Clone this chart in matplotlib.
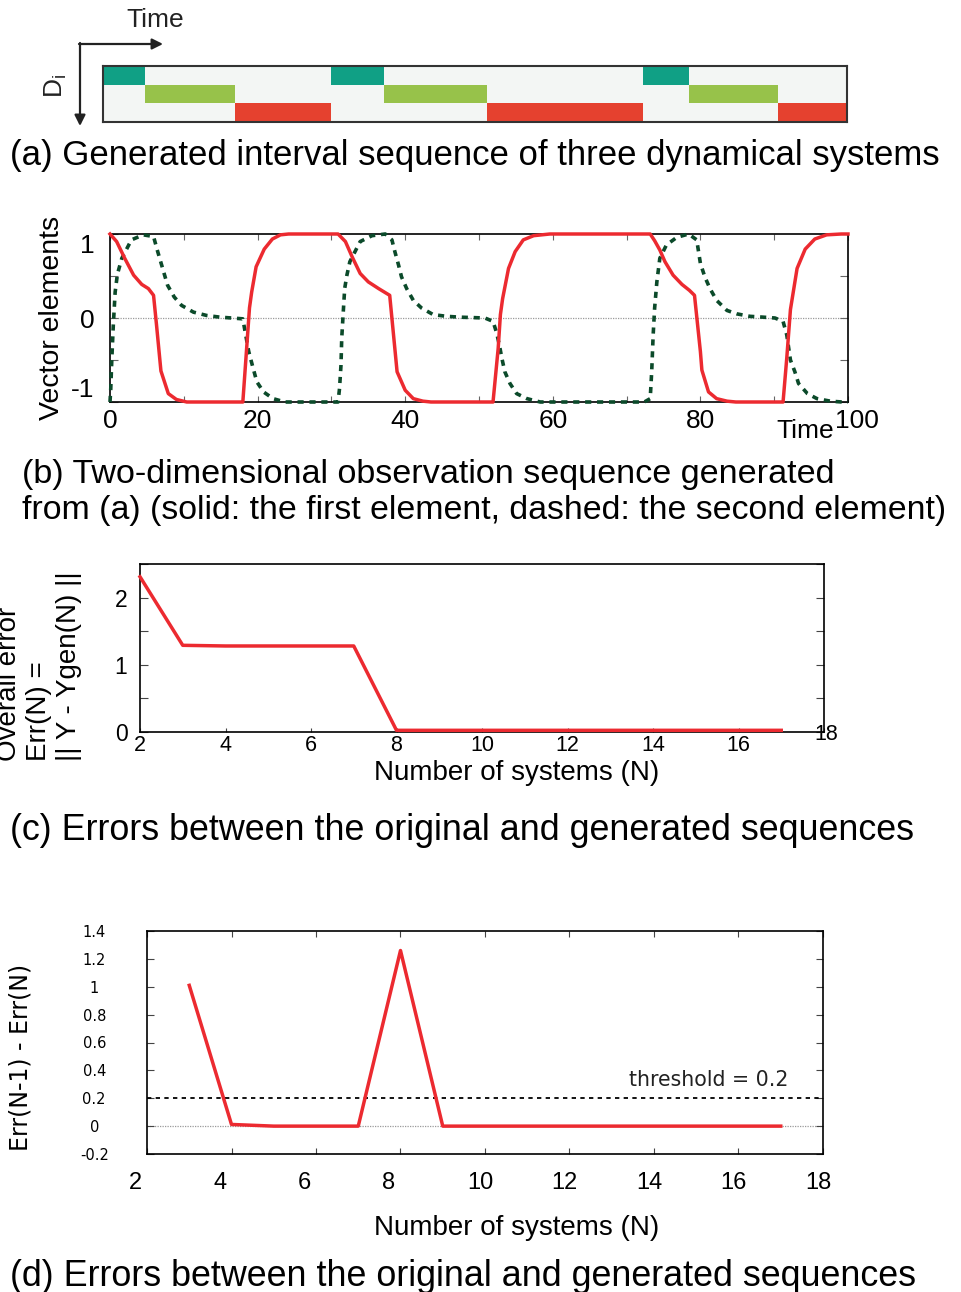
import matplotlib
matplotlib.use('Agg')
import matplotlib.pyplot as plt
from matplotlib.transforms import offset_copy

plt.rcParams['font.family'] = ['Liberation Sans', 'DejaVu Sans']
plt.rcParams['mathtext.fontset'] = 'custom'
plt.rcParams['mathtext.rm'] = 'Liberation Sans'
plt.rcParams['mathtext.it'] = 'Liberation Sans:italic'

# ---------------- data ----------------
# (a) interval sequence
seg_start = [0, 5.7, 17.7, 30.6, 37.8, 51.6, 72.6, 78.8, 90.7]
seg_end = [5.7, 17.7, 30.6, 37.8, 51.6, 72.6, 78.8, 90.7, 100]
seg_system = [1, 2, 3, 1, 2, 3, 1, 2, 3]
system_colors = ['#10a085', '#97c24a', '#e5412f']

# (b) observation sequence (time, value)
red_t = [0, 0.9, 2.0, 3.2, 4.3, 5.2, 5.9, 6.3, 6.9, 7.9, 9.0, 10.4, 18.0, 18.5, 18.9, 19.2,
         19.8, 20.9, 22.0, 23.1, 24.2, 30.9, 31.9, 32.8, 33.9, 35.0, 36.4, 37.9, 38.9, 40.0,
         41.1, 42.4, 43.5, 51.9, 52.6, 52.9, 53.2, 54.0, 54.9, 56.0, 57.4, 59.6, 73.2, 73.8,
         74.5, 75.2, 76.3, 77.5, 78.5, 79.2, 80.0, 80.2, 81.1, 82.2, 83.6, 84.8, 91.2, 91.7,
         92.2, 93.1, 94.2, 95.5, 97.1, 99.1, 100]
red_v = [1.0, 0.91, 0.71, 0.51, 0.40, 0.35, 0.27, -0.08, -0.63, -0.90, -0.97, -1.0, -1.0, -0.38,
         0.12, 0.31, 0.61, 0.82, 0.94, 0.99, 1.0, 1.0, 0.91, 0.73, 0.53, 0.43, 0.35, 0.27, -0.64,
         -0.86, -0.96, -0.99, -1.0, -1.0, -0.36, 0.04, 0.23, 0.59, 0.79, 0.93, 0.98, 1.0, 1.0,
         0.92, 0.81, 0.67, 0.51, 0.40, 0.33, 0.27, -0.40, -0.62, -0.88, -0.96, -0.99, -1.0, -1.0,
         -0.48, 0.10, 0.59, 0.82, 0.94, 0.99, 1.0, 1.0]
green_t = [0, 0.1, 0.25, 0.45, 0.7, 1.0, 1.6, 2.9, 4.5, 5.9, 6.4, 7.0, 7.8, 8.7, 9.7, 11.3, 13.1,
           14.9, 16.5, 18.0, 18.3, 18.8, 19.4, 19.9, 20.8, 22.1, 23.7, 30.9, 31.1, 31.3, 31.4,
           31.6, 31.8, 32.1, 32.5, 33.9, 35.5, 37.3, 38.2, 38.6, 39.1, 39.5, 40.2, 41.1, 42.2,
           43.8, 45.6, 47.4, 50.8, 51.9, 52.4, 52.8, 53.1, 53.5, 54.2, 55.1, 56.5, 58.3, 72.4,
           73.2, 73.4, 73.6, 73.8, 74.1, 74.5, 75.4, 76.8, 78.4, 79.5, 80.0, 80.6, 81.3, 82.2,
           83.6, 84.9, 86.7, 88.5, 90.1, 91.2, 91.7, 92.2, 92.8, 93.3, 94.5, 95.8, 97.6, 99.2, 100]
green_v = [-1.0, -0.85, -0.48, -0.08, 0.31, 0.52, 0.71, 0.93, 0.99, 0.97, 0.81, 0.63, 0.39, 0.25,
           0.15, 0.07, 0.03, 0.01, 0.0, -0.01, -0.16, -0.40, -0.60, -0.76, -0.88, -0.96, -1.0,
           -1.0, -0.84, -0.56, -0.24, 0.06, 0.35, 0.51, 0.67, 0.91, 0.98, 1.0, 0.93, 0.79, 0.63,
           0.49, 0.35, 0.21, 0.12, 0.04, 0.02, 0.01, 0.0, -0.04, -0.18, -0.34, -0.48, -0.64,
           -0.78, -0.90, -0.96, -1.0, -1.0, -0.96, -0.64, -0.20, 0.12, 0.43, 0.71, 0.87, 0.96,
           1.0, 0.93, 0.65, 0.49, 0.35, 0.21, 0.09, 0.05, 0.02, 0.01, 0.0, -0.04, -0.20, -0.50,
           -0.64, -0.78, -0.90, -0.96, -0.99, -1.0, -1.0]

# (c) overall error vs number of systems
n_c = [2, 3, 4, 5, 6, 7, 8, 9, 10, 11, 12, 13, 14, 15, 16, 17]
err_c = [2.31, 1.29, 1.28, 1.28, 1.28, 1.28, 0.025, 0.025, 0.025, 0.025, 0.025, 0.025, 0.025,
         0.025, 0.025, 0.025]

# (d) error differences
n_d = [3, 4, 5, 6, 7, 8, 9, 10, 11, 12, 13, 14, 15, 16, 17]
diff_d = [1.01, 0.012, 0.0, 0.0, 0.0, 1.26, 0.0, 0.0, 0.0, 0.0, 0.0, 0.0, 0.0, 0.0, 0.0]
threshold = 0.2

b_xticks = [0, 10, 20, 30, 40, 50, 60, 70, 80, 90, 100]
b_xlabels = ['0', '', '20', '', '40', '', '60', '', '80', '', '100']
b_yticks = [-1, -0.5, 0, 0.5, 1]
b_ylabels = ['-1', '', '0', '', '1']
c_xticks = [2, 4, 6, 8, 10, 12, 14, 16, 18]
c_yticks = [0, 0.5, 1, 1.5, 2, 2.5]
c_ylabels = ['0', '', '1', '', '2', '']
d_xticks = [2, 4, 6, 8, 10, 12, 14, 16, 18]
d_yticks = [-0.2, 0, 0.2, 0.4, 0.6, 0.8, 1.0, 1.2, 1.4]
d_ylabels = ['-0.2', '0', '0.2', '0.4', '0.6', '0.8', '1', '1.2', '1.4']

RED = '#ec2a30'
DGREEN = '#0b4a2a'

# ---------------- figure ----------------
W, H = 961, 1292
fig = plt.figure(figsize=(W / 100, H / 100), dpi=100)


def box(x0, y0, x1, y1):
    return [x0 / W, 1 - y1 / H, (x1 - x0) / W, (y1 - y0) / H]


ov = fig.add_axes([0, 0, 1, 1])
ov.set_xlim(0, W)
ov.set_ylim(H, 0)
ov.axis('off')
ov.set_zorder(10)

# ---- (a) ----
ax_a = fig.add_axes(box(103, 66, 847, 122))
ax_a.set_facecolor('#f3f6f4')
for s, e, k in zip(seg_start, seg_end, seg_system):
    ax_a.broken_barh([(s, e - s)], (k - 1, 1), facecolors=system_colors[k - 1], edgecolor='none')
ax_a.set_xlim(0, 100)
ax_a.set_ylim(3, 0)
ax_a.set_xticks([])
ax_a.set_yticks([])
for sp in ax_a.spines.values():
    sp.set_color('#333333')
    sp.set_linewidth(1.5)

ov.text(155, 20, 'Time', fontsize=19, ha='center', va='center', color='#222222')
ov.text(56, 86, r'D$_\mathregular{i}$', fontsize=19, rotation=90, ha='center', va='center',
        color='#222222')
ov.annotate('', xy=(163, 44), xytext=(79, 44),
            arrowprops=dict(arrowstyle='-|>', lw=1.6, color='#222222', mutation_scale=16,
                            shrinkA=0, shrinkB=0))
ov.annotate('', xy=(80, 126), xytext=(80, 43),
            arrowprops=dict(arrowstyle='-|>', lw=1.6, color='#222222', mutation_scale=16,
                            shrinkA=0, shrinkB=0))
ov.text(10, 155, '(a) Generated interval sequence of three dynamical systems',
        fontsize=25, ha='left', va='center')

# ---- (b) ----
ax_b = fig.add_axes(box(110, 234, 848, 402))
ax_b.axhline(0, color='#9a9a9a', lw=0.9, ls=(0, (1, 1)), zorder=1)
ax_b.plot(green_t, green_v, color=DGREEN, lw=2.6, ls=(0, (1.7, 1.6)), zorder=3, clip_on=False)
ax_b.plot(red_t, red_v, color=RED, lw=2.5, zorder=4, clip_on=False)
ax_b.set_xlim(0, 100)
ax_b.set_ylim(-1, 1)
ax_b.set_xticks(b_xticks)
ax_b.set_xticklabels(b_xlabels)
ax_b.set_yticks(b_yticks)
ax_b.set_yticklabels(b_ylabels)
ax_b.tick_params(direction='in', top=True, right=True, labelsize=19, color='#666666')
ax_b.tick_params(axis='x', length=4, pad=5)
ax_b.tick_params(axis='y', length=6, pad=11)
for sp in ax_b.spines.values():
    sp.set_linewidth(1.2)
ylab = ax_b.get_yticklabels()
ylab[4].set_va('top')
ylab[0].set_va('bottom')
xlab = ax_b.get_xticklabels()
xlab[10].set_transform(offset_copy(xlab[10].get_transform(), fig=fig, x=9, y=0, units='dots'))
ax_b.set_ylabel('Vector elements', fontsize=20.5)
ax_b.yaxis.label.set_rotation_mode('default')
ax_b.yaxis.label.set_va('center')
ax_b.yaxis.set_label_coords((52 - 110) / 738, 0.5)
ov.text(805, 431, 'Time', fontsize=19, ha='center', va='center')
ov.text(22, 474, '(b) Two-dimensional observation sequence generated',
        fontsize=24.6, ha='left', va='center')
ov.text(22, 510, 'from (a) (solid: the first element, dashed: the second element)',
        fontsize=24.4, ha='left', va='center')

# ---- (c) ----
ax_c = fig.add_axes(box(140, 564, 824, 732))
ax_c.plot(n_c, err_c, color=RED, lw=2.5, zorder=4, clip_on=False)
ax_c.set_xlim(2, 18)
ax_c.set_ylim(0, 2.5)
ax_c.set_xticks(c_xticks)
ax_c.set_xticklabels([str(v) for v in c_xticks])
ax_c.set_yticks(c_yticks)
ax_c.set_yticklabels(c_ylabels)
ax_c.tick_params(direction='in', right=True, color='#444444')
ax_c.tick_params(axis='x', length=3, pad=2, labelsize=15.5)
ax_c.tick_params(axis='y', length=6, pad=9, labelsize=16.5)
for sp in ax_c.spines.values():
    sp.set_linewidth(1.2)
cxl = ax_c.get_xticklabels()
cxl[-1].set_transform(offset_copy(cxl[-1].get_transform(), fig=fig, x=2, y=11, units='dots'))
ax_c.set_xlabel('Number of systems (N)', fontsize=20)
ax_c.xaxis.label.set_va('center')
ax_c.xaxis.set_label_coords((517 - 140) / 684, (732 - 773) / 168)
ax_c.set_ylabel('Overall error\nErr(N) =\n|| Y - Ygen(N) ||', fontsize=20,
                multialignment='left')
ax_c.yaxis.label.set_rotation_mode('default')
ax_c.yaxis.label.set_va('center')
ax_c.yaxis.label.set_ha('center')
ax_c.yaxis.set_label_coords((39 - 140) / 684, (732 - 666) / 168)
ov.text(10, 831, '(c) Errors between the original and generated sequences',
        fontsize=25.8, ha='left', va='center')

# ---- (d) ----
ax_d = fig.add_axes(box(147, 931, 823, 1154))
ax_d.axhline(0, color='#9a9a9a', lw=0.9, ls=(0, (1, 1)), zorder=1)
ax_d.axhline(threshold, color='black', lw=1.3, ls=(0, (2.4, 2.4)), zorder=2)
ax_d.plot(n_d, diff_d, color=RED, lw=2.5, zorder=4)
ax_d.set_xlim(2, 18)
ax_d.set_ylim(-0.2, 1.4)
ax_d.set_xticks(d_xticks)
ax_d.set_xticklabels([str(v) for v in d_xticks])
ax_d.set_yticks(d_yticks)
ax_d.set_yticklabels(d_ylabels)
ax_d.tick_params(direction='in', top=True, right=True, color='#444444')
ax_d.tick_params(axis='x', length=4, pad=13, labelsize=17)
ax_d.tick_params(axis='y', length=5, pad=38, labelsize=10.5, labelfontfamily='DejaVu Sans')
for sp in ax_d.spines.values():
    sp.set_linewidth(1.2)
for lab in ax_d.get_yticklabels():
    lab.set_ha('center')
for lab in ax_d.get_xticklabels():
    lab.set_ha('left')
    lab.set_transform(offset_copy(lab.get_transform(), fig=fig, x=-18, y=0, units='dots'))
ax_d.text(15.3, 0.33, 'threshold = 0.2', fontsize=14.8, family='DejaVu Sans',
          ha='center', va='center', color='#222222')
ax_d.set_xlabel('Number of systems (N)', fontsize=20)
ax_d.xaxis.label.set_va('center')
ax_d.xaxis.set_label_coords((517 - 147) / 676, (1154 - 1228) / 223)
ax_d.set_ylabel('Err(N-1) - Err(N)', fontsize=17, family='DejaVu Sans')
ax_d.yaxis.label.set_rotation_mode('default')
ax_d.yaxis.label.set_va('center')
ax_d.yaxis.set_label_coords((20 - 147) / 676, (1154 - 1057) / 223)
ov.text(10, 1276, '(d) Errors between the original and generated sequences',
        fontsize=25.8, ha='left', va='center')

fig.savefig('out.png', dpi=100)
